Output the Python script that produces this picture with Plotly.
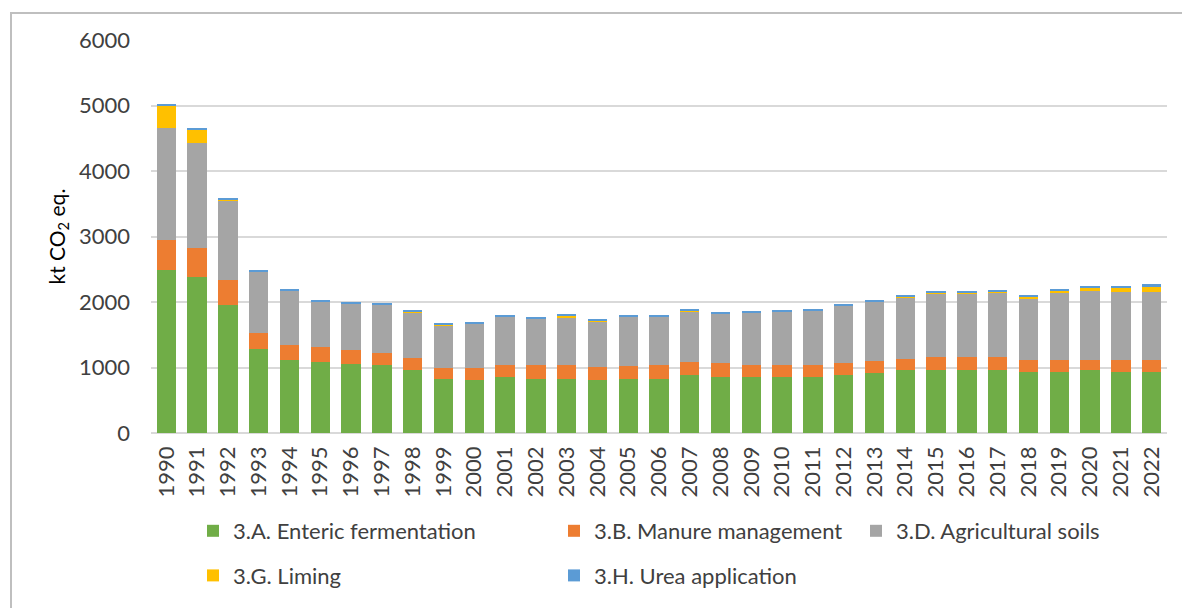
import plotly.graph_objects as go

years = [str(y) for y in range(1990, 2023)]

enteric = [2485, 2378, 1960, 1278, 1120, 1089, 1053, 1033, 962, 818, 815, 850, 825, 825, 809, 825,
           825, 881, 850, 850, 850, 850, 881, 916, 957, 957, 957, 957, 937, 937, 957, 937, 937]
manure = [457, 442, 376, 249, 229, 224, 214, 193, 178, 177, 178, 194, 219, 219, 194, 198,
          219, 198, 214, 194, 194, 194, 183, 179, 178, 198, 198, 198, 178, 178, 158, 178, 178]
soils = [1708, 1601, 1201, 931, 819, 698, 713, 733, 697, 643, 682, 733, 702, 718, 702, 754,
         733, 774, 759, 789, 804, 824, 875, 905, 932, 973, 973, 983, 931, 1023, 1053, 1038, 1038]
liming = [353, 211, 31, 3, 2, 2, 2, 2, 15, 12, 3, 3, 3, 35, 20, 3,
          3, 20, 3, 3, 3, 3, 3, 15, 20, 15, 15, 20, 36, 35, 56, 71, 91]
urea = [24, 20, 26, 26, 26, 20, 20, 24, 21, 15, 20, 20, 20, 20, 21, 20,
        20, 16, 20, 20, 25, 20, 21, 21, 15, 20, 20, 20, 20, 21, 26, 21, 26]

y_ticks = [0, 1000, 2000, 3000, 4000, 5000, 6000]

series = [
    ("3.A. Enteric fermentation", enteric, "#70AD47", "legend"),
    ("3.B. Manure management", manure, "#ED7D31", "legend2"),
    ("3.D. Agricultural soils", soils, "#A5A5A5", "legend3"),
    ("3.G. Liming", liming, "#FFC000", "legend"),
    ("3.H. Urea application", urea, "#5B9BD5", "legend2"),
]

FONT = "Lato, 'Liberation Sans', Arial, sans-serif"
TXT = "#404040"
FS = 22

fig = go.Figure()
for i, (name, vals, col, lg) in enumerate(series):
    fig.add_trace(go.Bar(
        x=years, y=vals, name=name, marker=dict(color=col, line=dict(width=0)),
        legend=lg, legendgroup=f"g{i}",
    ))

leg_common = dict(orientation="v", traceorder="grouped", tracegroupgap=13,
                  font=dict(family=FONT, size=FS, color=TXT), bgcolor="rgba(0,0,0,0)",
                  xref="container", yref="container", yanchor="top", xanchor="left",
                  itemclick=False)

fig.update_layout(
    width=1182, height=608,
    margin=dict(l=151, r=15, t=40, b=175, autoexpand=False),
    barmode="stack", bargap=0.37,
    plot_bgcolor="white", paper_bgcolor="white",
    font=dict(family=FONT, size=FS, color=TXT),
    legend=dict(x=193/1182, y=1-510/608, **leg_common),
    legend2=dict(x=554/1182, y=1-510/608, **leg_common),
    legend3=dict(x=856/1182, y=1-510/608, **leg_common),
    xaxis=dict(type="category", tickangle=-90, showgrid=False, showline=False, ticks="",
               tickfont=dict(family=FONT, size=FS, color=TXT), ticklabelstandoff=8,
               automargin=False),
    yaxis=dict(range=[0, 6000], tickvals=y_ticks, showgrid=True, gridcolor="#D9D9D9", gridwidth=1.5,
               zeroline=True, zerolinecolor="#D9D9D9", zerolinewidth=2, automargin=False,
               tickfont=dict(family=FONT, size=FS, color=TXT), ticklabelstandoff=20),
    showlegend=True,
)

fig.add_annotation(text="kt CO<sub>2</sub> eq.", textangle=-90, xref="paper", yref="paper",
                   x=(57-151)/1016, y=0.5, xanchor="center", yanchor="middle", showarrow=False,
                   font=dict(family=FONT, size=21, color="#000000"))

fig.add_shape(type="rect", xref="paper", yref="paper",
              x0=(11-151)/1016, x1=1.3, y0=-0.8, y1=1+(40-13)/393,
              line=dict(color="#BFBFBF", width=2), fillcolor="rgba(0,0,0,0)", layer="below")

fig.write_html("out.html", config={"displayModeBar": False},
               post_script="document.body.style.margin='0px';")
